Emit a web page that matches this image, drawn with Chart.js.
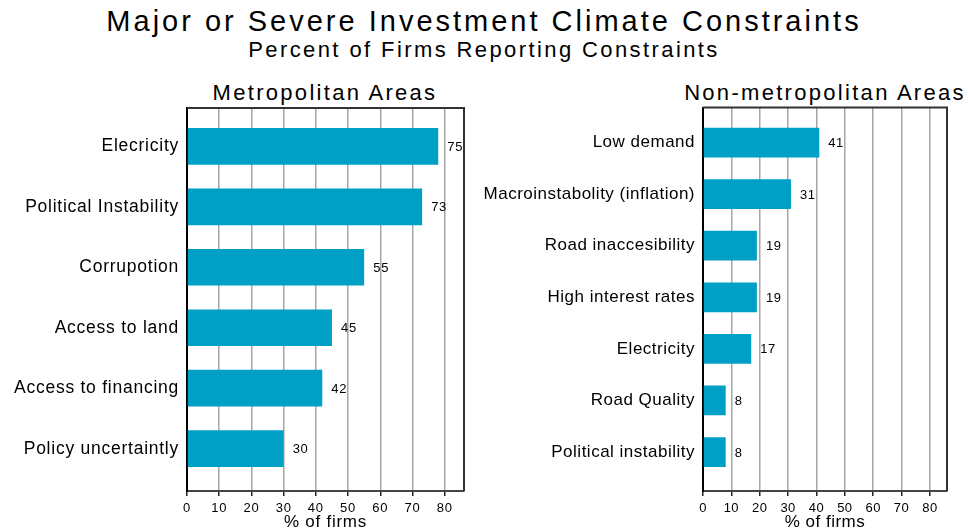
<!DOCTYPE html>
<html>
<head>
<meta charset="utf-8">
<script src="https://cdn.jsdelivr.net/npm/chart.js@4/dist/chart.umd.min.js"></script>
<style>
  body { margin: 0; background: #fff; font-family: "Liberation Sans", Arial, sans-serif; color: #000; }
  #wrap { position: relative; width: 968px; height: 529px; overflow: hidden; }
  .txt { position: absolute; white-space: nowrap; text-align: center; }
  #title { left: 0; width: 968px; top: 5px; font-size: 29px; line-height: 32px; letter-spacing: 3px; }
  #subtitle { left: 0; width: 968px; top: 37px; font-size: 22px; line-height: 26px; letter-spacing: 2.4px; }
  .panel { top: 80px; font-size: 22px; line-height: 26px; letter-spacing: 2.3px; }
  #leftTitle { left: 125px; width: 400px; }
  #rightTitle { left: 625px; width: 400px; }
  canvas { position: absolute; top: 70px; }
  #metroChart { left: 0; }
  #nonMetroChart { left: 460px; }
</style>
</head>
<body>
<div id="wrap">
  <div id="title" class="txt">Major or Severe Investment Climate Constraints</div>
  <div id="subtitle" class="txt">Percent of Firms Reporting Constraints</div>
  <div id="leftTitle" class="txt panel">Metropolitan Areas</div>
  <div id="rightTitle" class="txt panel">Non-metropolitan Areas</div>
  <canvas id="metroChart" width="484" height="459"></canvas>
  <canvas id="nonMetroChart" width="508" height="459"></canvas>
</div>
<script>
// Metropolitan areas (bar lengths as drawn, text as printed)
const metroLabels = ['Elecricity', 'Political Instability', 'Corrupotion', 'Access to land', 'Access to financing', 'Policy uncertaintly'];
const metroValues = [78, 73, 55, 45, 42, 30];
const metroText = ['75', '73', '55', '45', '42', '30'];

// Non-metropolitan areas
const nonMetroLabels = ['Low demand', 'Macroinstabolity (inflation)', 'Road inaccesibility', 'High interest rates', 'Electricity', 'Road Quality', 'Political instability'];
const nonMetroValues = [41, 31, 19, 19, 17, 8, 8];
const nonMetroText = ['41', '31', '19', '19', '17', '8', '8'];

const xTicks = [0, 10, 20, 30, 40, 50, 60, 70, 80];

const FONT = '"Liberation Sans", Arial, sans-serif';
const BAR_COLOR = '#00a0c6';

// wider letter spacing like the original
function spacingPlugin(sp) {
  return {
    id: 'spacing',
    beforeLayout(chart) { chart.ctx.letterSpacing = sp; },
    beforeDraw(chart) { chart.ctx.letterSpacing = sp; }
  };
}

// top and right frame lines
const framePlugin = {
  id: 'frame',
  afterDraw(chart) {
    const a = chart.chartArea;
    const ctx = chart.ctx;
    ctx.save();
    ctx.strokeStyle = '#333';
    ctx.lineWidth = 2;
    ctx.beginPath();
    ctx.moveTo(a.left, a.top);
    ctx.lineTo(a.right, a.top);
    ctx.lineTo(a.right, a.bottom);
    ctx.stroke();
    ctx.restore();
  }
};

// value labels at the end of each bar
function valuePlugin(texts) {
  return {
    id: 'values',
    afterDatasetsDraw(chart) {
      const ctx = chart.ctx;
      const meta = chart.getDatasetMeta(0);
      ctx.save();
      ctx.font = '13px ' + FONT;
      ctx.fillStyle = '#000';
      ctx.textAlign = 'left';
      ctx.textBaseline = 'middle';
      meta.data.forEach((bar, i) => {
        ctx.fillText(texts[i], bar.x + 9, bar.y + 1);
      });
      ctx.restore();
    }
  };
}

function makeChart(id, labels, values, texts, opts) {
  const ctx = document.getElementById(id).getContext('2d');
  return new Chart(ctx, {
    type: 'bar',
    data: {
      datasets: [{
        data: values.map((v, i) => ({ x: v, y: i })),
        backgroundColor: BAR_COLOR,
        borderWidth: 0,
        categoryPercentage: 1,
        barPercentage: opts.barPct
      }]
    },
    options: {
      indexAxis: 'y',
      responsive: false,
      animation: false,
      devicePixelRatio: 1,
      layout: { padding: { left: 0, right: opts.padRight, top: opts.padTop, bottom: 0 } },
      plugins: { legend: { display: false }, tooltip: { enabled: false } },
      scales: {
        x: {
          type: 'linear',
          min: 0,
          max: 86,
          afterBuildTicks(scale) { scale.ticks = xTicks.map(v => ({ value: v })); },
          ticks: { font: { size: 13, family: FONT }, color: '#000', padding: 5, maxRotation: 0 },
          grid: { color: '#a6a6a6', lineWidth: 1.5, tickColor: '#222', tickLength: 5, drawTicks: true },
          border: { display: true, color: '#444', width: 2 },
          title: { display: true, text: '% of firms', font: { size: 17, family: FONT, lineHeight: 1 }, color: '#000', padding: { top: 0, bottom: -1.5 } },
          afterFit(scale) { scale.height = 38; }
        },
        y: {
          type: 'linear',
          reverse: true,
          offset: false,
          min: opts.yMin,
          max: opts.yMax,
          ticks: {
            stepSize: 1,
            includeBounds: false,
            autoSkip: false,
            font: { size: opts.labelSize, family: FONT },
            color: '#000',
            padding: 8,
            callback: v => labels[v] !== undefined ? labels[v] : ''
          },
          grid: { display: false, drawTicks: false, offset: false },
          border: { display: true, color: '#000', width: 2 },
          afterFit(scale) { scale.width = opts.axisWidth; }
        }
      }
    },
    plugins: [spacingPlugin(opts.spacing), framePlugin, valuePlugin(texts)]
  });
}

makeChart('metroChart', metroLabels, metroValues, metroText, {
  barPct: 0.607, yMin: -0.634, yMax: 5.70, axisWidth: 187, padRight: 20, padTop: 38,
  labelSize: 17.5, spacing: '0.75px'
});
makeChart('nonMetroChart', nonMetroLabels, nonMetroValues, nonMetroText, {
  barPct: 0.577, yMin: -0.68, yMax: 6.755, axisWidth: 243, padRight: 21, padTop: 37.5,
  labelSize: 17, spacing: '0.5px'
});
</script>
</body>
</html>
